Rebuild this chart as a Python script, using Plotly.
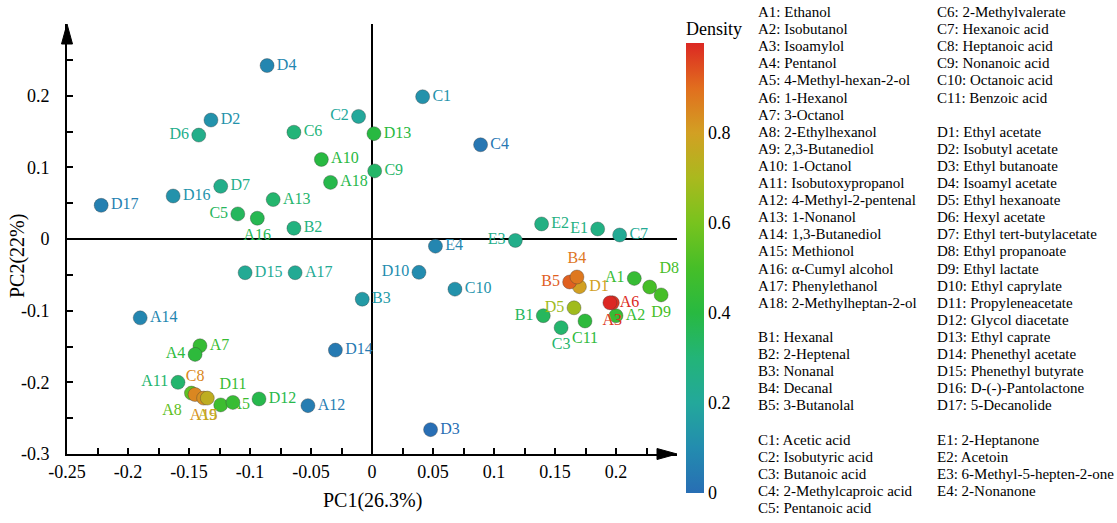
import plotly.graph_objects as go
from plotly.colors import sample_colorscale

# ---------------- data ----------------
codes = ["D4", "D2", "D6", "C6", "C2", "D13", "A10", "A18", "C9", "D7", "D16", "D17",
         "A13", "C5", "A16", "B2", "C1", "C4", "E2", "E1", "C7", "E3", "E4", "D10",
         "C10", "B3", "D15", "A17", "A14", "D14", "D3", "A12", "A7", "A4", "A11",
         "D12", "A5", "D11", "A8", "C8", "A15", "A9",
         "B1", "C3", "C11", "D5", "A2", "A1", "D8", "D9", "D1", "B5", "B4", "A3", "A6"]
pc1 = [-0.086, -0.132, -0.142, -0.064, -0.011, 0.0016, -0.0415, -0.034, 0.0022, -0.124, -0.163, -0.222,
       -0.081, -0.110, -0.094, -0.064, 0.0415, 0.089, 0.139, 0.185, 0.203, 0.1175, 0.052, 0.0385,
       0.068, -0.008, -0.104, -0.063, -0.190, -0.030, 0.048, -0.0525, -0.141, -0.145, -0.159,
       -0.0926, -0.124, -0.114, -0.148, -0.145, -0.138, -0.135,
       0.1404, 0.155, 0.1746, 0.1656, 0.200, 0.215, 0.2276, 0.237, 0.170, 0.162, 0.168, 0.197, 0.195]
pc2 = [0.242, 0.166, 0.145, 0.149, 0.171, 0.147, 0.111, 0.079, 0.095, 0.0735, 0.060, 0.047,
       0.055, 0.035, 0.029, 0.015, 0.1985, 0.1315, 0.021, 0.014, 0.0056, -0.002, -0.010, -0.0465,
       -0.070, -0.084, -0.047, -0.047, -0.110, -0.155, -0.266, -0.2325, -0.149, -0.161, -0.200,
       -0.2232, -0.2315, -0.228, -0.215, -0.217, -0.222, -0.222,
       -0.107, -0.1237, -0.1144, -0.096, -0.107, -0.055, -0.067, -0.078, -0.0665, -0.060, -0.053, -0.089, -0.089]
density = [0.08, 0.12, 0.25, 0.30, 0.20, 0.40, 0.40, 0.38, 0.33, 0.25, 0.12, 0.06,
           0.32, 0.35, 0.37, 0.28, 0.12, 0.03, 0.27, 0.27, 0.22, 0.25, 0.08, 0.10,
           0.12, 0.15, 0.22, 0.22, 0.08, 0.04, 0.0, 0.05, 0.45, 0.42, 0.32,
           0.38, 0.47, 0.45, 0.55, 0.85, 0.83, 0.75,
           0.35, 0.32, 0.42, 0.68, 0.45, 0.45, 0.50, 0.50, 0.80, 0.92, 0.88, 0.98, 1.0]

a_names = ["Ethanol", "Isobutanol", "Isoamylol", "Pentanol", "4-Methyl-hexan-2-ol", "1-Hexanol",
           "3-Octanol", "2-Ethylhexanol", "2,3-Butanediol", "1-Octanol", "Isobutoxypropanol",
           "4-Methyl-2-pentenal", "1-Nonanol", "1,3-Butanediol", "Methionol", "α-Cumyl alcohol",
           "Phenylethanol", "2-Methylheptan-2-ol"]
b_names = ["Hexanal", "2-Heptenal", "Nonanal", "Decanal", "3-Butanolal"]
c_names = ["Acetic acid", "Isobutyric acid", "Butanoic acid", "2-Methylcaproic acid", "Pentanoic acid",
           "2-Methylvalerate", "Hexanoic acid", "Heptanoic acid", "Nonanoic acid", "Octanoic acid",
           "Benzoic acid"]
d_names = ["Ethyl acetate", "Isobutyl acetate", "Ethyl butanoate", "Isoamyl acetate", "Ethyl hexanoate",
           "Hexyl acetate", "Ethyl tert-butylacetate", "Ethyl propanoate", "Ethyl lactate",
           "Ethyl caprylate", "Propyleneacetate", "Glycol diacetate", "Ethyl caprate",
           "Phenethyl acetate", "Phenethyl butyrate", "D-(-)-Pantolactone", "5-Decanolide"]
e_names = ["2-Heptanone", "Acetoin", "6-Methyl-5-hepten-2-one", "2-Nonanone"]

x_tickvals = [-0.25, -0.2, -0.15, -0.1, -0.05, 0, 0.05, 0.1, 0.15, 0.2]
x_ticktext = ["-0.25", "-0.2", "-0.15", "-0.1", "-0.05", "0", "0.05", "0.1", "0.15", "0.2"]
y_tickvals = [-0.3, -0.2, -0.1, 0, 0.1, 0.2]
y_ticktext = ["-0.3", "-0.2", "-0.1", "0", "0.1", "0.2"]
cb_tickvals = [0, 0.2, 0.4, 0.6, 0.8]
cb_ticktext = ["0", "0.2", "0.4", "0.6", "0.8"]
x_title = "PC1(26.3%)"
y_title = "PC2(22%)"
cb_title = "Density"

# ---------------- styles ----------------
label_pos = {
    "D6": "middle left", "C2": "middle left", "C5": "middle left", "A16": "bottom center",
    "E1": "middle left", "E3": "middle left", "D10": "middle left", "A4": "middle left",
    "A11": "middle left", "A8": "bottom left", "C8": "top center", "A15": "bottom center",
    "A9": "bottom center", "D11": "top center", "B4": "top center", "B5": "middle left",
    "A1": "middle left", "D8": "top right", "D9": "bottom center", "A3": "bottom center",
    "D5": "middle left", "B1": "middle left", "C11": "bottom center", "C3": "bottom center",
}
positions = [label_pos.get(c, "middle right") for c in codes]

colorscale = [
    [0.0, "rgb(40,110,180)"], [0.1, "rgb(35,140,175)"], [0.2, "rgb(35,168,155)"],
    [0.3, "rgb(35,180,120)"], [0.4, "rgb(40,185,65)"], [0.5, "rgb(70,190,40)"],
    [0.6, "rgb(120,195,30)"], [0.7, "rgb(170,185,30)"], [0.8, "rgb(210,160,35)"],
    [0.9, "rgb(225,110,30)"], [1.0, "rgb(220,40,35)"],
]
point_colors = sample_colorscale(colorscale, density)

FONT = "Liberation Serif"
W, H = 1117, 523
L, R, T, B = 67, 440, 24, 69
PW, PH = W - L - R, H - T - B


def px_x(p):
    return (p - L) / PW


def px_y(p):
    return (H - B - p) / PH


fig = go.Figure()
fig.add_trace(go.Scatter(
    x=pc1, y=pc2, mode="markers+text", text=codes, textposition=positions,
    textfont=dict(family=FONT, size=16, color=point_colors),
    marker=dict(size=14, color=density, colorscale=colorscale, cmin=0, cmax=1,
                line=dict(width=0.8, color="rgba(60,60,60,0.45)"),
                colorbar=dict(
                    title=dict(text=cb_title, side="top", font=dict(family=FONT, size=18, color="black")),
                    thickness=18, len=475, lenmode="pixels",
                    x=px_x(686), xanchor="left", y=px_y(493), yanchor="bottom",
                    tickvals=cb_tickvals, ticktext=cb_ticktext, ticks="",
                    tickfont=dict(family=FONT, size=18, color="black"),
                    outlinewidth=0, ypad=0, xpad=0,
                )),
    showlegend=False, hoverinfo="skip", cliponaxis=False,
))

fig.update_xaxes(
    range=[-0.25, 0.25], tickvals=x_tickvals, ticktext=x_ticktext,
    ticks="inside", ticklen=6, tickwidth=1.5, tickcolor="black",
    minor=dict(dtick=0.025, tick0=0, ticks="inside", ticklen=6, tickwidth=1.5, tickcolor="black"),
    showline=True, linecolor="black", linewidth=2, showgrid=False,
    zeroline=True, zerolinecolor="black", zerolinewidth=2,
    tickfont=dict(family=FONT, size=18, color="black"),
)
fig.update_yaxes(
    range=[-0.3, 0.3], tickvals=y_tickvals, ticktext=y_ticktext,
    ticks="inside", ticklen=6, tickwidth=1.5, tickcolor="black",
    minor=dict(dtick=0.05, tick0=0, ticks="inside", ticklen=6, tickwidth=1.5, tickcolor="black"),
    showline=True, linecolor="black", linewidth=2, showgrid=False,
    zeroline=True, zerolinecolor="black", zerolinewidth=2,
    tickfont=dict(family=FONT, size=18, color="black"),
    ticklabelstandoff=12,
)

# axis titles
fig.add_annotation(text=x_title, xref="paper", yref="paper", x=px_x(372), y=px_y(500),
                   xanchor="center", yanchor="middle", showarrow=False,
                   font=dict(family=FONT, size=20, color="black"))
fig.add_annotation(text=y_title, xref="paper", yref="paper", x=px_x(18), y=px_y(256),
                   xanchor="center", yanchor="middle", showarrow=False, textangle=-90,
                   font=dict(family=FONT, size=20, color="black"))

# axis arrowheads
ahw = 5.5 / PW
ahl = 20 / PH
fig.add_shape(type="path", xref="paper", yref="paper",
              path=f"M {-ahw},{1 - ahl} L 0,1 L {ahw},{1 - ahl} Z",
              fillcolor="black", line=dict(color="black", width=1))
rhl = 20 / PW
rhw = 5.5 / PH
fig.add_shape(type="path", xref="paper", yref="paper",
              path=f"M {1 - rhl},{-rhw} L 1,0 L {1 - rhl},{rhw} Z",
              fillcolor="black", line=dict(color="black", width=1))

# compound key (two text columns)
col1 = ([f"A{i + 1}: {n}" for i, n in enumerate(a_names)] + [""] +
        [f"B{i + 1}: {n}" for i, n in enumerate(b_names)] + [""] +
        [f"C{i + 1}: {n}" for i, n in enumerate(c_names[:5])])
col2 = ([f"C{i + 6}: {n}" for i, n in enumerate(c_names[5:])] + [""] +
        [f"D{i + 1}: {n}" for i, n in enumerate(d_names)] + [""] +
        [f"E{i + 1}: {n}" for i, n in enumerate(e_names)])
for xpx, col in ((756, col1), (935, col2)):
    for i, line in enumerate(col):
        if not line:
            continue
        fig.add_annotation(text=line, xref="paper", yref="paper", x=px_x(xpx), y=px_y(12 + i * 17.1),
                           xanchor="left", yanchor="middle", showarrow=False,
                           font=dict(family=FONT, size=15, color="black"))

fig.update_layout(
    width=W, height=H, autosize=False,
    margin=dict(l=L, r=R, t=T, b=B, autoexpand=False),
    plot_bgcolor="white", paper_bgcolor="white",
    font=dict(family=FONT, color="black"),
)
fig.write_html("out.html", config={"displayModeBar": False},
               post_script="document.body.style.margin='0';document.body.style.overflow='hidden';")
